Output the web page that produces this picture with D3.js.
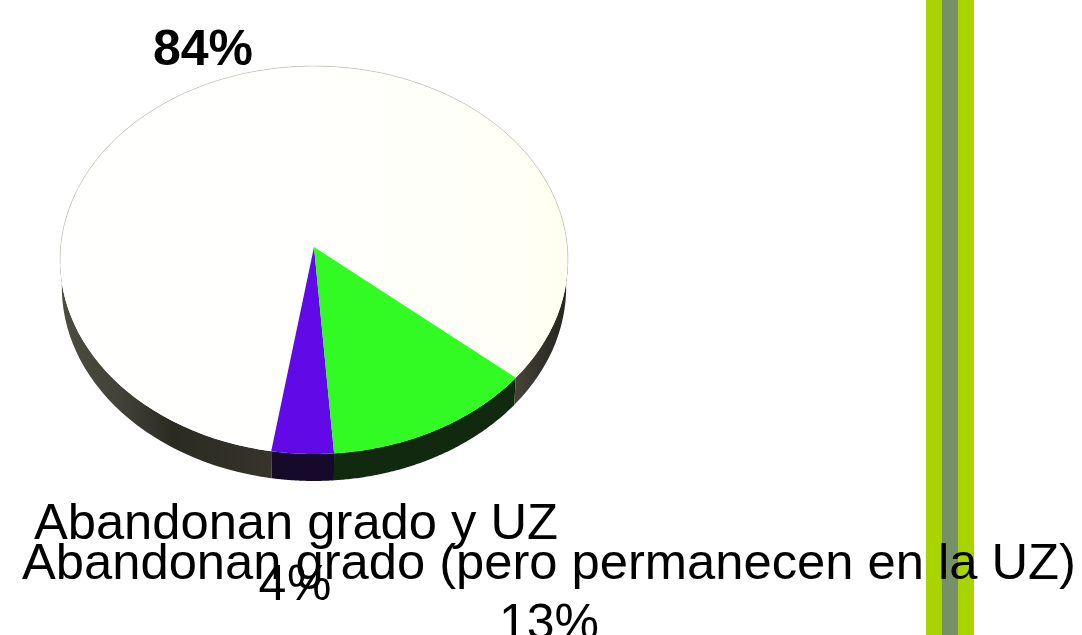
<!DOCTYPE html>
<html>
<head>
<meta charset="utf-8">
<script src="https://cdn.jsdelivr.net/npm/d3@7"></script>
<style>
  html, body { margin: 0; padding: 0; background: #fff; overflow: hidden; }
  svg { display: block; }
  text { font-family: "Liberation Sans", Arial, sans-serif; fill: #000; }
</style>
</head>
<body>
<div id="chart"></div>
<script>
// values, the printed labels are the rounded ones
const categories = ["Abandonan grado (pero permanecen en la UZ)", "Abandonan grado y UZ", "Resto"];
const shares = [12.6, 3.7, 83.7];
const percentLabels = ["13%", "4 %", "84%"];
const topColors = ["#31fb22", "#6209e8", "url(#topWhite)"];
const sideColors = ["#10290f", "#150a2a", "url(#sideWhite)"];

const width = 1082, height = 635;
const svg = d3.select("#chart").append("svg").attr("width", width).attr("height", height);

// flat disc seen in perspective: k pulls the front edge closer
const cx = 314, cy = 247, k = 0.067, scaleX = 253.4, scaleY = 193.1, depth = 27;

function project(a, drop) {
    let u = Math.sin(a), v = -Math.cos(a);
    let w = 1 - k * v;
    let shrink = drop ? 0.993 : 1;
    return [cx + scaleX * shrink * u / w, cy + scaleY * v / w + (drop ? depth : 0)];
}

const pie = d3.pie().sort(null).value(d => d)
    .startAngle(130.4 * Math.PI / 180)
    .endAngle((130.4 + 360) * Math.PI / 180);
const slices = pie(shares);

const line = d3.line();
const samples = (s, drop) => d3.range(0, 121).map(i => project(s.startAngle + (s.endAngle - s.startAngle) * i / 120, drop));

const defs = svg.append("defs");
const addGradient = (id, x1, y1, x2, y2, stops) => {
    let g = defs.append("linearGradient").attr("id", id).attr("gradientUnits", "userSpaceOnUse")
        .attr("x1", x1).attr("y1", y1).attr("x2", x2).attr("y2", y2);
    stops.forEach(s => g.append("stop").attr("offset", s[0]).attr("stop-color", s[1]));
};
addGradient("topWhite", 60, 260, 568, 260, [[0, "#ffffff"], [0.5, "#fffffd"], [0.85, "#fffff8"], [1, "#fffff0"]]);
addGradient("sideWhite", 60, 0, 568, 0, [
    [0, "#4c4c40"], [0.12, "#42423a"], [0.22, "#2b2b22"], [0.4, "#35332a"],
    [0.9, "#454339"], [0.96, "#2e2d26"], [1, "#26261e"]
]);

// side wall, the back part stays hidden under the top face
const sides = svg.append("g");
slices.forEach((s, i) => {
    let top = samples(s, false), bottom = samples(s, true).reverse();
    sides.append("path").attr("d", line(top.concat(bottom)) + "Z").attr("fill", sideColors[i]);
});

// top face
const faces = svg.append("g");
slices.slice().reverse().forEach((s, j) => {
    let i = slices.length - 1 - j;
    let pts = [[cx, cy]].concat(samples(s, false));
    faces.append("path").attr("d", line(pts) + "Z").attr("fill", topColors[i]);
});

// thin grey edge along the back of the disc
svg.append("path")
    .attr("d", line(d3.range(0, 101).map(i => project((-95 + 190 * i / 100) * Math.PI / 180, false))))
    .attr("fill", "none").attr("stroke", "#cfcfc4").attr("stroke-width", 0.7);

// stripes on the right
const stripes = [[926, 48, "#aad400"], [942, 16, "#76906a"]];
svg.append("g").selectAll("rect").data(stripes).enter().append("rect")
    .attr("x", d => d[0]).attr("y", 0).attr("width", d => d[1]).attr("height", height)
    .attr("fill", d => d[2]);

// labels, overlapping as in the original
const labels = svg.append("g").attr("text-anchor", "middle");
const addLabel = (txt, x, y, size, weight) => labels.append("text")
    .attr("x", x).attr("y", y).attr("font-size", size).attr("font-weight", weight).text(txt);

addLabel(percentLabels[2], 203, 65, 50, "bold");
addLabel(categories[1], 296, 539, 50.7, "normal");
addLabel(categories[0], 549, 579, 50.7, "normal");
addLabel(percentLabels[1], 295, 600, 50, "normal").attr("word-spacing", -13);
addLabel(percentLabels[0], 549, 639, 50, "normal");
</script>
</body>
</html>
